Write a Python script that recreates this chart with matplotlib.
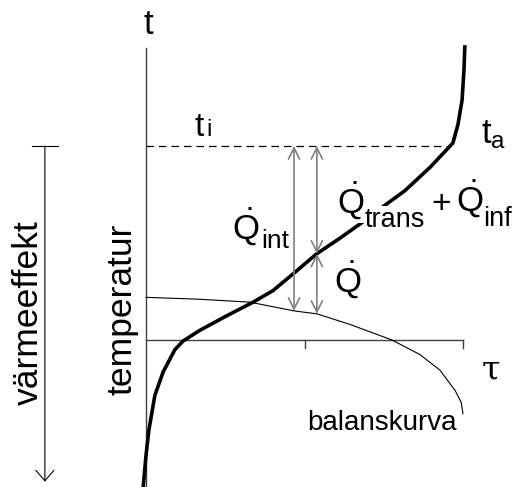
import matplotlib
matplotlib.use('Agg')  # non-interactive backend
import matplotlib.pyplot as plt
import numpy as np

# Duration curve of outdoor temperature (tau = fraction of the year, t = temperature)
curve_tau = [-0.009, 0.0, 0.009, 0.028, 0.054, 0.091, 0.117, 0.170, 0.249, 0.338,
             0.401, 0.467, 0.539, 0.612, 0.681, 0.750, 0.817, 0.896, 0.968,
             0.984, 0.997, 1.003, 1.006]
curve_t = [-15.2, -11.9, -9.3, -5.7, -3.3, -1.0, -0.1, 1.0, 2.4, 3.9,
           5.1, 6.9, 8.9, 10.5, 12.1, 13.8, 15.4, 17.8, 20.3,
           22.2, 24.7, 27.8, 30.4]

# Balance curve (thin line)
balance_tau = [0.0, 0.170, 0.328, 0.467, 0.539, 0.644, 0.776, 0.864, 0.927, 0.975, 0.994, 1.0]
balance_t = [4.4, 4.2, 3.9, 3.0, 2.7, 1.6, 0.0, -1.5, -3.1, -5.2, -6.4, -7.6]

t_inne = 20.0                   # indoor temperature t_i
tau_ticks = [0.5, 1.0]
arrow_tau = [0.467, 0.539]      # positions of the Q arrows
effect_arrow_tau = -0.319       # left "värmeeffekt" arrow
effect_arrow_bottom = -14.6

SANS = 'Liberation Sans'
plt.rcParams['font.family'] = [SANS, 'DejaVu Sans']
plt.rcParams['mathtext.fontset'] = 'custom'
plt.rcParams['mathtext.rm'] = SANS
plt.rcParams['mathtext.it'] = SANS

fig = plt.figure(figsize=(5.14, 4.87), dpi=100)
ax = fig.add_axes([0, 0, 1, 1])
ax.set_xlim(-0.4606, 1.1609)
ax.set_ylim(-15.155, 35.052)
ax.axis('off')

axis_color = '#404040'
arrow_color = '#808080'

# axes
ax.plot([0, 0], [-15.2, 30.1], color=axis_color, lw=1.0)
ax.plot([0, 1], [0, 0], color=axis_color, lw=1.0)
for tk in tau_ticks:
    ax.plot([tk, tk], [0, -0.8], color=axis_color, lw=1.0)

# where the duration curve reaches the indoor temperature
tau_ti = np.interp(t_inne, curve_t, curve_tau)
ax.plot([0, tau_ti], [t_inne, t_inne], color='black', lw=0.9, dashes=(6, 4))

# curves
ax.plot(curve_tau, curve_t, color='black', lw=2.6, solid_capstyle='butt', zorder=3)
ax.plot(balance_tau, balance_t, color='black', lw=0.8, zorder=2)

# Q arrows
arrow_kw = dict(arrowstyle='<->,head_length=0.8,head_width=0.4', color=arrow_color,
                lw=1.2, shrinkA=0, shrinkB=0, mutation_scale=10)
a1 = arrow_tau[0]
ax.annotate('', xy=(a1, t_inne), xytext=(a1, np.interp(a1, balance_tau, balance_t)),
            arrowprops=arrow_kw)
a2 = arrow_tau[1]
t_mid = np.interp(a2, curve_tau, curve_t)
ax.annotate('', xy=(a2, t_inne), xytext=(a2, t_mid), arrowprops=arrow_kw)
ax.annotate('', xy=(a2, t_mid), xytext=(a2, np.interp(a2, balance_tau, balance_t)),
            arrowprops=arrow_kw)

# värmeeffekt arrow on the left
ax.annotate('', xy=(effect_arrow_tau, effect_arrow_bottom), xytext=(effect_arrow_tau, t_inne),
            arrowprops=dict(arrowstyle='->,head_length=0.75,head_width=0.65', color='black',
                            lw=0.8, shrinkA=0, shrinkB=0, mutation_scale=10))
ax.plot([effect_arrow_tau - 0.042, effect_arrow_tau + 0.042], [t_inne, t_inne],
        color='black', lw=0.8)

# labels
ax.text(0.006, 32.5, 't', fontsize=25, ha='center', va='center')
ax.text(0.152, 21.0, 't', fontsize=24, ha='left', va='baseline')
ax.text(0.192, 21.0, 'i', fontsize=17, ha='left', va='baseline')
ax.text(1.058, 20.3, r'$\mathrm{t}_{\mathrm{a}}$', fontsize=25, ha='left', va='baseline')

qsize = 25
ax.text(0.270, 10.4, r'$\dot{\mathrm{Q}}$', fontsize=qsize, ha='left', va='baseline', zorder=5)
ax.text(0.365, 9.5, 'int', fontsize=19, ha='left', va='baseline', zorder=5)
ax.text(0.603, 13.1, r'$\dot{\mathrm{Q}}$', fontsize=qsize, ha='left', va='baseline', zorder=5,
        bbox=dict(fc='white', ec='none', pad=1))
ax.text(0.691, 11.6, 'trans', fontsize=19.5, ha='left', va='baseline', zorder=5,
        bbox=dict(fc='white', ec='none', pad=1))
ax.text(0.931, 14.0, '+', fontsize=24, ha='center', va='center')
ax.text(0.978, 13.3, r'$\dot{\mathrm{Q}}$', fontsize=qsize, ha='left', va='baseline')
ax.text(1.063, 11.8, 'inf', fontsize=19.5, ha='left', va='baseline')
ax.text(0.593, 5.0, r'$\dot{\mathrm{Q}}$', fontsize=qsize, ha='left', va='baseline')

ax.text(1.088, -3.1, 'τ', fontsize=24, ha='center', va='center', family='DejaVu Serif')
ax.text(0.745, -9.3, 'balanskurva', fontsize=20, ha='center', va='baseline')
ax.text(-0.076, 3.2, 'temperatur', fontsize=25.5, ha='center', va='center', rotation=90)
ax.text(-0.372, 2.8, 'värmeeffekt', fontsize=25.5, ha='center', va='center', rotation=90)

fig.savefig('out.png', dpi=100)
plt.close(fig)
